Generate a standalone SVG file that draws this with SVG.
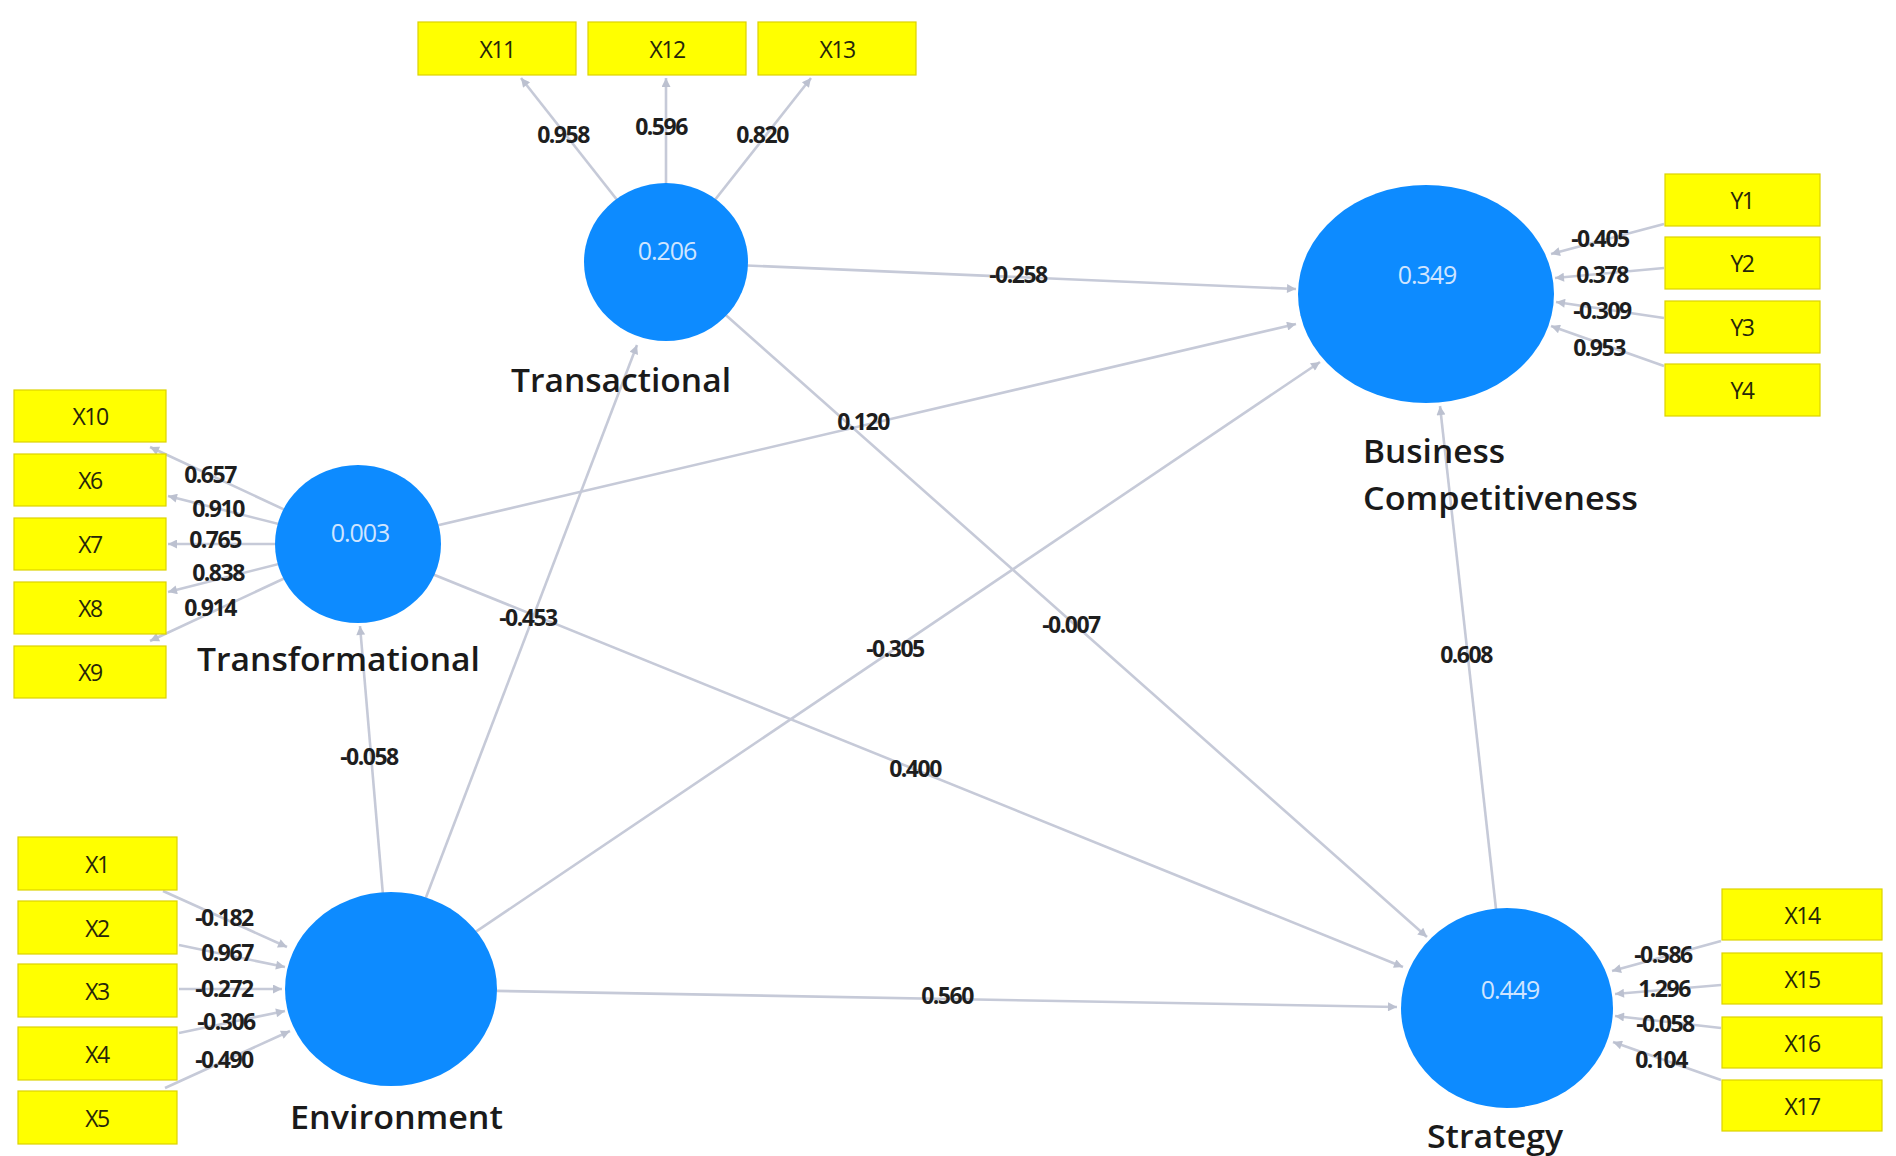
<svg xmlns="http://www.w3.org/2000/svg" width="1896" height="1156" viewBox="0 0 1896 1156">
<style>
.bg{fill:#ffffff}
.ln{stroke:#c6cad8;stroke-width:2.6;fill:none}
.ar{marker-end:url(#ah)}
.box{fill:#ffff00;stroke:#dcd300;stroke-width:1.2}
.bt{font-family:"Open Sans","Liberation Sans",sans-serif;font-size:23px;fill:#26260a;text-anchor:middle;dominant-baseline:central;letter-spacing:-1.5px}
.lv{fill:#0d8bff}
.val{font-family:"Open Sans","Liberation Sans",sans-serif;font-size:25px;fill:#cfe5ff;text-anchor:middle;dominant-baseline:central;letter-spacing:-1px}
.name{font-family:"Open Sans","Liberation Sans",sans-serif;font-size:32px;font-weight:600;fill:#1a1a1a}
.cf{font-family:"Open Sans","Liberation Sans",sans-serif;font-size:23px;font-weight:700;fill:#1e1e1e;text-anchor:middle;dominant-baseline:central;letter-spacing:-1.5px}
</style>
<defs>
<marker id="ah" viewBox="0 0 10 10" refX="10" refY="5" markerWidth="12" markerHeight="9" markerUnits="userSpaceOnUse" orient="auto">
<path d="M0,0 L10,5 L0,10 z" fill="#bcc1d0"/>
</marker>
</defs>
<rect class="bg" x="0" y="0" width="1896" height="1156"/>

<g id="connectors">
<line class="ln ar" x1="666" y1="262" x2="1296" y2="289"/>
<line class="ln ar" x1="358" y1="544" x2="1296" y2="324"/>
<line class="ln ar" x1="391" y1="989" x2="1320" y2="362"/>
<line class="ln ar" x1="666" y1="262" x2="1427" y2="937"/>
<line class="ln ar" x1="358" y1="544" x2="1403" y2="967"/>
<line class="ln ar" x1="391" y1="989" x2="1397" y2="1007"/>
<line class="ln ar" x1="391" y1="989" x2="360" y2="626"/>
<line class="ln ar" x1="391" y1="989" x2="637" y2="345"/>
<line class="ln ar" x1="1507" y1="1008" x2="1440" y2="406"/>
<line class="ln ar" x1="666" y1="262" x2="521" y2="78"/>
<line class="ln ar" x1="666" y1="262" x2="666" y2="78"/>
<line class="ln ar" x1="666" y1="262" x2="811" y2="78"/>
<line class="ln ar" x1="358" y1="544" x2="150" y2="447"/>
<line class="ln ar" x1="358" y1="544" x2="168" y2="496"/>
<line class="ln ar" x1="358" y1="544" x2="168" y2="544"/>
<line class="ln ar" x1="358" y1="544" x2="168" y2="592"/>
<line class="ln ar" x1="358" y1="544" x2="150" y2="641"/>
<line class="ln ar" x1="163" y1="891" x2="287" y2="947"/>
<line class="ln ar" x1="179" y1="945" x2="285" y2="967"/>
<line class="ln ar" x1="179" y1="989" x2="282" y2="989"/>
<line class="ln ar" x1="179" y1="1033" x2="285" y2="1011"/>
<line class="ln ar" x1="165" y1="1088" x2="290" y2="1031"/>
<line class="ln ar" x1="1664" y1="224" x2="1551" y2="254"/>
<line class="ln ar" x1="1664" y1="268" x2="1555" y2="278"/>
<line class="ln ar" x1="1664" y1="318" x2="1556" y2="302"/>
<line class="ln ar" x1="1664" y1="366" x2="1551" y2="326"/>
<line class="ln ar" x1="1721" y1="941" x2="1612" y2="971"/>
<line class="ln ar" x1="1721" y1="985" x2="1615" y2="994"/>
<line class="ln ar" x1="1721" y1="1028" x2="1615" y2="1016"/>
<line class="ln ar" x1="1721" y1="1080" x2="1613" y2="1042"/>
</g>

<g id="coefficients">
<text class="cf" x="1018" y="274">-0.258</text>
<text class="cf" x="863" y="421">0.120</text>
<text class="cf" x="528" y="617">-0.453</text>
<text class="cf" x="895" y="648">-0.305</text>
<text class="cf" x="1071" y="624">-0.007</text>
<text class="cf" x="1466" y="654">0.608</text>
<text class="cf" x="369" y="756">-0.058</text>
<text class="cf" x="915" y="768">0.400</text>
<text class="cf" x="947" y="995">0.560</text>
<text class="cf" x="563" y="134">0.958</text>
<text class="cf" x="661" y="126">0.596</text>
<text class="cf" x="762" y="134">0.820</text>
<text class="cf" x="210" y="474">0.657</text>
<text class="cf" x="218" y="508">0.910</text>
<text class="cf" x="215" y="539">0.765</text>
<text class="cf" x="218" y="572">0.838</text>
<text class="cf" x="210" y="607">0.914</text>
<text class="cf" x="224" y="917">-0.182</text>
<text class="cf" x="227" y="952">0.967</text>
<text class="cf" x="224" y="988">-0.272</text>
<text class="cf" x="226" y="1021">-0.306</text>
<text class="cf" x="224" y="1059">-0.490</text>
<text class="cf" x="1600" y="238">-0.405</text>
<text class="cf" x="1602" y="274">0.378</text>
<text class="cf" x="1602" y="310">-0.309</text>
<text class="cf" x="1599" y="347">0.953</text>
<text class="cf" x="1663" y="954">-0.586</text>
<text class="cf" x="1664" y="988">1.296</text>
<text class="cf" x="1665" y="1023">-0.058</text>
<text class="cf" x="1661" y="1059">0.104</text>
</g>

<g id="Transactional">
<ellipse class="lv" cx="666" cy="262" rx="82" ry="79"/>
<text class="val" x="667" y="250">0.206</text>
<text class="name" x="511" y="392" textLength="220" lengthAdjust="spacingAndGlyphs">Transactional</text>
</g>
<g id="Transformational">
<ellipse class="lv" cx="358" cy="544" rx="83" ry="79"/>
<text class="val" x="360" y="532">0.003</text>
<text class="name" x="197" y="671" textLength="283" lengthAdjust="spacingAndGlyphs">Transformational</text>
</g>
<g id="Environment">
<ellipse class="lv" cx="391" cy="989" rx="106" ry="97"/>
<text class="name" x="290" y="1129" textLength="213" lengthAdjust="spacingAndGlyphs">Environment</text>
</g>
<g id="BusinessCompetitiveness">
<ellipse class="lv" cx="1426" cy="294" rx="128" ry="109"/>
<text class="val" x="1427" y="274">0.349</text>
<text class="name" x="1363" y="463" textLength="142" lengthAdjust="spacingAndGlyphs">Business</text>
<text class="name" x="1363" y="510" textLength="275" lengthAdjust="spacingAndGlyphs">Competitiveness</text>
</g>
<g id="Strategy">
<ellipse class="lv" cx="1507" cy="1008" rx="106" ry="100"/>
<text class="val" x="1510" y="989">0.449</text>
<text class="name" x="1427" y="1148" textLength="136" lengthAdjust="spacingAndGlyphs">Strategy</text>
</g>

<g id="X11"><rect class="box" x="418" y="22" width="158" height="53"/><text class="bt" x="497" y="49">X11</text></g>
<g id="X12"><rect class="box" x="588" y="22" width="158" height="53"/><text class="bt" x="667" y="49">X12</text></g>
<g id="X13"><rect class="box" x="758" y="22" width="158" height="53"/><text class="bt" x="837" y="49">X13</text></g>

<g id="X10"><rect class="box" x="14" y="390" width="152" height="52"/><text class="bt" x="90" y="416">X10</text></g>
<g id="X6"><rect class="box" x="14" y="454" width="152" height="52"/><text class="bt" x="90" y="480">X6</text></g>
<g id="X7"><rect class="box" x="14" y="518" width="152" height="52"/><text class="bt" x="90" y="544">X7</text></g>
<g id="X8"><rect class="box" x="14" y="582" width="152" height="52"/><text class="bt" x="90" y="608">X8</text></g>
<g id="X9"><rect class="box" x="14" y="646" width="152" height="52"/><text class="bt" x="90" y="672">X9</text></g>

<g id="X1"><rect class="box" x="18" y="837" width="159" height="53"/><text class="bt" x="97" y="864">X1</text></g>
<g id="X2"><rect class="box" x="18" y="901" width="159" height="53"/><text class="bt" x="97" y="928">X2</text></g>
<g id="X3"><rect class="box" x="18" y="964" width="159" height="53"/><text class="bt" x="97" y="991">X3</text></g>
<g id="X4"><rect class="box" x="18" y="1027" width="159" height="53"/><text class="bt" x="97" y="1054">X4</text></g>
<g id="X5"><rect class="box" x="18" y="1091" width="159" height="53"/><text class="bt" x="97" y="1118">X5</text></g>

<g id="Y1"><rect class="box" x="1665" y="174" width="155" height="52"/><text class="bt" x="1742" y="200">Y1</text></g>
<g id="Y2"><rect class="box" x="1665" y="237" width="155" height="52"/><text class="bt" x="1742" y="263">Y2</text></g>
<g id="Y3"><rect class="box" x="1665" y="301" width="155" height="52"/><text class="bt" x="1742" y="327">Y3</text></g>
<g id="Y4"><rect class="box" x="1665" y="364" width="155" height="52"/><text class="bt" x="1742" y="390">Y4</text></g>

<g id="X14"><rect class="box" x="1722" y="889" width="160" height="51"/><text class="bt" x="1802" y="915">X14</text></g>
<g id="X15"><rect class="box" x="1722" y="953" width="160" height="51"/><text class="bt" x="1802" y="979">X15</text></g>
<g id="X16"><rect class="box" x="1722" y="1017" width="160" height="51"/><text class="bt" x="1802" y="1043">X16</text></g>
<g id="X17"><rect class="box" x="1722" y="1080" width="160" height="51"/><text class="bt" x="1802" y="1106">X17</text></g>
</svg>
